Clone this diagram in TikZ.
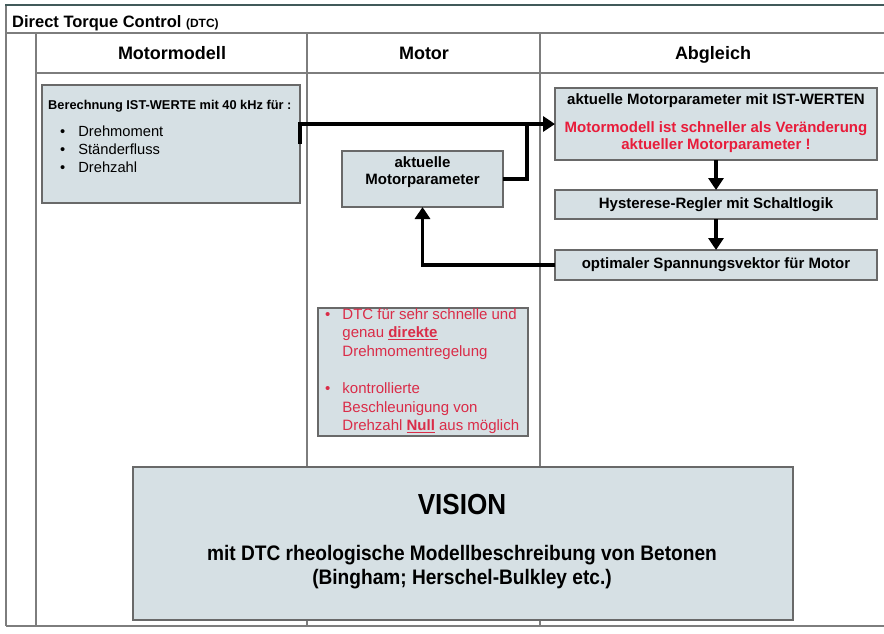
\documentclass[tikz,border=0pt]{standalone}
\usepackage{fontspec}
\usepackage{graphicx}
\setmainfont{Liberation Sans}
\usetikzlibrary{arrows.meta}
\definecolor{boxfill}{RGB}{214,224,228}
\definecolor{boxdraw}{RGB}{105,105,105}
\definecolor{linegray}{RGB}{125,125,125}
\definecolor{hired}{RGB}{232,28,58}
\definecolor{pinkred}{RGB}{218,44,72}
\definecolor{frametop}{RGB}{65,90,90}
\newcommand{\fs}[2]{\fontsize{#1}{#2}\selectfont}
\begin{document}
\begin{tikzpicture}[x=1pt,y=-1pt,
  box/.style={draw=boxdraw, line width=1.3pt, fill=boxfill, inner sep=0pt, outer sep=0pt},
  grid/.style={draw=linegray, line width=1.6pt},
  head/.style={font=\bfseries\fs{18}{20}, inner sep=0pt, anchor=base},
  btxt/.style={font=\bfseries\fs{15}{17.5}, align=center, inner sep=0pt},
  conn/.style={line width=3.8pt, line join=miter},
  arr/.style={conn, -{Triangle[length=12pt,width=15pt]}}]
\useasboundingbox (0,0) rectangle (884,633);
% frame
\draw[grid] (6,33) -- (884,33);
\draw[grid] (36,73) -- (884,73);
\draw[grid] (6,626) -- (884,626);
\draw[grid] (6,5) -- (6,626);
\draw[grid] (36,33) -- (36,626);
\draw[grid] (307,33) -- (307,626);
\draw[grid] (540,33) -- (540,626);
\draw[draw=frametop, line width=2pt] (5,5) -- (884,5);
% title
\node[anchor=base west, inner sep=0pt] (title) at (12,27)
  {\bfseries\fs{16.5}{18}Direct Torque Control {\fs{12}{12}(DTC)}};
% headers
\node[head] (h1) at (172,59.5) {Motormodell};
\node[head] (h2) at (424,59.5) {Motor};
\node[head] (h3) at (713,59.5) {Abgleich};
% Motormodell box
\node[box, minimum width=258pt, minimum height=118pt] (mm) at (171,144) {};
\node[anchor=west, inner sep=0pt, font=\bfseries\fs{12.8}{14}] (mmt) at (48,106) {Berechnung IST-WERTE mit 40 kHz für :};
\node[anchor=north west, inner sep=0pt, font=\fs{14.7}{17.8}, align=left] (mml) at (60,126)
  {\textbullet\hspace{13pt}Drehmoment\\ \textbullet\hspace{13pt}Ständerfluss\\ \textbullet\hspace{13pt}Drehzahl};
% Motor box
\node[box, minimum width=161pt, minimum height=56pt] (mp) at (422.5,179) {};
\node[btxt] (mpt) at (422.5,172) {aktuelle\\Motorparameter};
% Abgleich boxes
\node[box, minimum width=322pt, minimum height=72pt] (b1) at (716,124) {};
\node[btxt] (b1t) at (716,101) {aktuelle Motorparameter mit IST-WERTEN};
\node[btxt, text=hired] (b1r) at (716,137) {Motormodell ist schneller als Veränderung\\aktueller Motorparameter !};
\node[box, minimum width=322pt, minimum height=29pt, btxt] (b2) at (716,204.5) {Hysterese-Regler mit Schaltlogik};
\node[box, minimum width=322pt, minimum height=30pt, btxt] (b3) at (716,265) {optimaler Spannungsvektor für Motor};
% red note box
\node[box, minimum width=210pt, minimum height=128pt] (rb) at (423,372) {};
\node[anchor=north west, inner sep=0pt, text=pinkred, font=\fs{15}{18.5}, align=left] (rbt) at (325,308)
  {\textbullet\hspace{12pt}DTC für sehr schnelle und\\
   \hphantom{\textbullet}\hspace{12pt}genau \underline{\textbf{direkte}}\\
   \hphantom{\textbullet}\hspace{12pt}Drehmomentregelung\\[19pt]
   \textbullet\hspace{12pt}kontrollierte\\
   \hphantom{\textbullet}\hspace{12pt}Beschleunigung von\\
   \hphantom{\textbullet}\hspace{12pt}Drehzahl \underline{\textbf{Null}} aus möglich};
% vision box
\node[box, minimum width=660pt, minimum height=153pt] (vb) at (463,543.5) {};
\node[inner sep=0pt, font=\bfseries\fs{29}{30}] (vt) at (462,505) {\scalebox{0.9}[1]{VISION}};
\node[inner sep=0pt, font=\bfseries\fs{21}{24}, align=center] (vd) at (462,567)
  {\scalebox{0.91}[1]{mit DTC rheologische Modellbeschreibung von Betonen}\\
   \scalebox{0.91}[1]{(Bingham; Herschel-Bulkley etc.)}};
% connectors
\coordinate (j) at (527,124);
\draw[arr] (mm.east) |- (b1.west);
\draw[conn] (mp.east) -| (j);
\draw[arr] (b3.west) -| (mp.south);
\draw[arr] (b1.south) -- (b2.north);
\draw[arr] (b2.south) -- (b3.north);
\end{tikzpicture}
\end{document}
